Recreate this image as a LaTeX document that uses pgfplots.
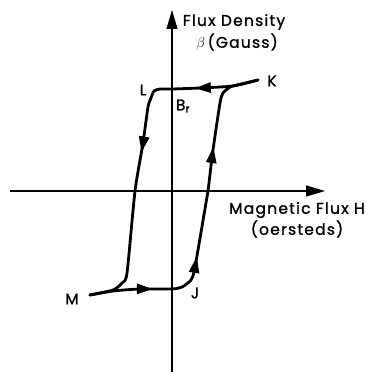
\documentclass[border=0pt]{standalone}
\usepackage{pgfplots}
\pgfplotsset{compat=1.18}
\usepackage{fontspec}
\setmainfont{Poppins}[LetterSpace=8,FakeBold=1.2]
\usetikzlibrary{arrows.meta,decorations.markings}
\begin{document}
\begin{tikzpicture}
\begin{axis}[x=1pt,y=1pt,xmin=-172,xmax=193,ymin=-183,ymax=191,
  hide axis, clip=false, scale only axis]
\path (axis cs:-172,-183) rectangle (axis cs:193,191);
% axes
\draw[line width=1.1pt,-{Triangle[length=19pt,width=11pt]}] (axis cs:-162,0) -- (axis cs:153,0);
\draw[line width=1.1pt,-{Triangle[length=19pt,width=11pt]}] (axis cs:0,-181) -- (axis cs:0,181);
% upper branch K -> M
\addplot[line width=2.8pt, smooth, tension=0.4, line cap=round, line join=round,
  postaction={decorate}, decoration={markings,
    mark=at position 0.19 with {\arrow{Triangle[length=16pt,width=10pt]}},
    mark=at position 0.50 with {\arrow{Triangle[length=16pt,width=10pt]}}}]
coordinates {(86,111) (61,105) (28,103) (0,102) (-12,102) (-18,100) (-21,93) (-24,84) (-29,48) (-37,0) (-45,-82) (-50,-92) (-59,-99) (-82,-104)};
% lower branch M -> K
\addplot[line width=2.8pt, smooth, tension=0.4, line cap=round, line join=round,
  postaction={decorate}, decoration={markings,
    mark=at position 0.19 with {\arrow{Triangle[length=16pt,width=10pt]}},
    mark=at position 0.385 with {\arrow{Triangle[length=16pt,width=10pt]}},
    mark=at position 0.72 with {\arrow{Triangle[length=16pt,width=10pt]}}}]
coordinates {(-82,-104) (-59,-100) (-32,-98) (0,-98) (10,-96) (19,-89) (23,-76) (35,-6) (36,0) (41,41) (48,88) (51,98) (58,104) (61,105) (86,111)};
% labels
\node[font=\fontsize{15.5}{15}\selectfont] at (axis cs:100,110) {K};
\node[font=\fontsize{15.5}{15}\selectfont] at (axis cs:-29,101) {L};
\node[font=\fontsize{15.5}{15}\selectfont] at (axis cs:11,85) {B$_\mathrm{r}$};
\node[font=\fontsize{15.5}{15}\selectfont] at (axis cs:-100,-108) {M};
\node[font=\fontsize{15.5}{15}\selectfont] at (axis cs:23,-102) {J};
\node[inner sep=0pt,font=\fontsize{15.5}{15}\selectfont] at (axis cs:62,169) {Flux Density};
\node[inner sep=0pt,font=\fontsize{15.5}{15}\selectfont] at (axis cs:65,149) {$\beta$\,(Gauss)};
\node[inner sep=0pt,font=\fontsize{15.5}{15}\selectfont] at (axis cs:125,-19) {Magnetic Flux H};
\node[inner sep=0pt,font=\fontsize{15.5}{15}\selectfont] at (axis cs:125,-38) {(oersteds)};
\end{axis}
\end{tikzpicture}
\end{document}
